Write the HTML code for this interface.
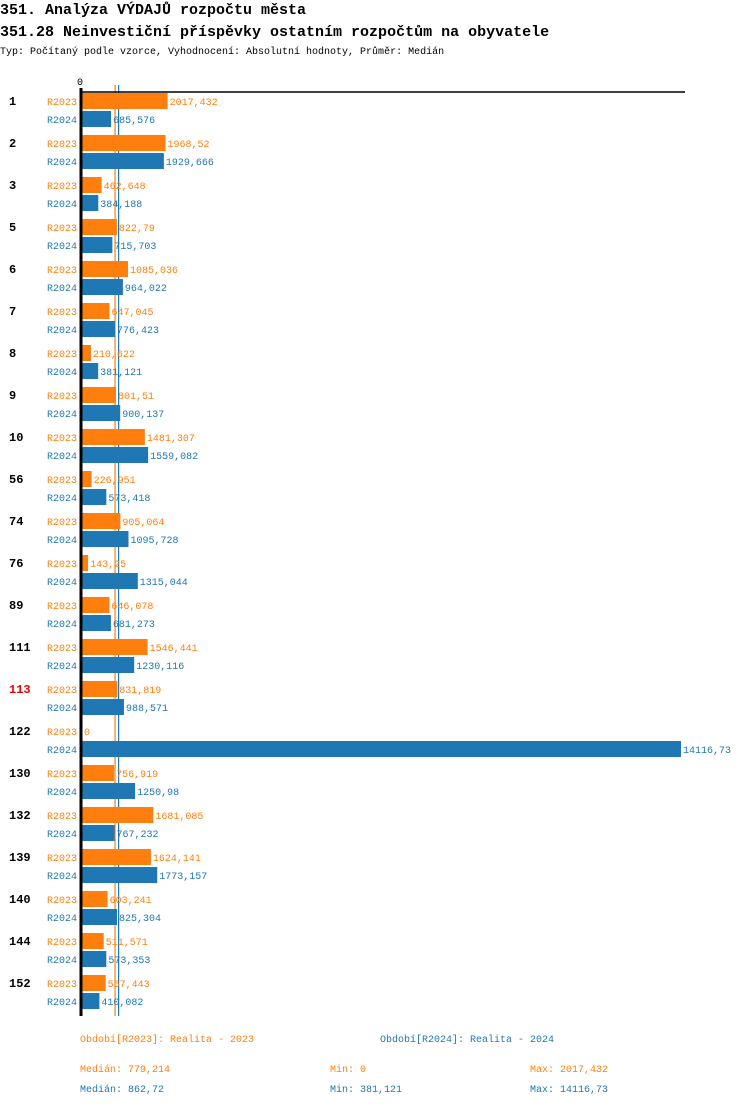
<!DOCTYPE html>
<html><head><meta charset="utf-8"><style>
body{margin:0;background:#fff;width:750px;height:1106px;overflow:hidden;font-family:"Liberation Mono",monospace}
svg text{font-family:"Liberation Mono",monospace}
</style></head><body>
<svg id="c" width="750" height="1106" xmlns="http://www.w3.org/2000/svg">
<text x="0" y="14" font-size="15" font-weight="bold">351. Analýza VÝDAJŮ rozpočtu města</text>
<text x="0" y="36" font-size="15" font-weight="bold">351.28 Neinvestiční příspěvky ostatním rozpočtům na obyvatele</text>
<text x="0" y="54" font-size="10">Typ: Počítaný podle vzorce, Vyhodnocení: Absolutní hodnoty, Průměr: Medián</text>
<text x="77" y="85" font-size="10">0</text>
<g id="medians"></g>
<g id="bars"></g>
<line x1="80" y1="92" x2="685" y2="92" stroke="#000" stroke-width="1.5"/>
<line x1="81" y1="88" x2="81" y2="1016" stroke="#000" stroke-width="3"/>
<g font-size="10">
<text x="80" y="1042" fill="#ff7f0e">Období[R2023]: Realita - 2023</text>
<text x="380" y="1042" fill="#1f77b4">Období[R2024]: Realita - 2024</text>
<text x="80" y="1072" fill="#ff7f0e">Medián: 779,214</text>
<text x="330" y="1072" fill="#ff7f0e">Min: 0</text>
<text x="530" y="1072" fill="#ff7f0e">Max: 2017,432</text>
<text x="80" y="1092" fill="#1f77b4">Medián: 862,72</text>
<text x="330" y="1092" fill="#1f77b4">Min: 381,121</text>
<text x="530" y="1092" fill="#1f77b4">Max: 14116,73</text>
</g>
</svg>
<script>
const categories=["1","2","3","5","6","7","8","9","10","56","74","76","89","111","113","122","130","132","139","140","144","152"];
const r2023=[2017.432,1968.52,462.648,822.79,1085.036,647.045,210.622,801.51,1481.307,226.951,905.064,143.25,646.078,1546.441,831.819,0,756.919,1681.085,1624.141,603.241,511.571,557.443];
const r2024=[685.576,1929.666,384.188,715.703,964.022,776.423,381.121,900.137,1559.082,573.418,1095.728,1315.044,681.273,1230.116,988.571,14116.73,1250.98,767.232,1773.157,825.304,573.353,410.082];
const medians=[779.214,862.72];
const highlight="113";
const NS="http://www.w3.org/2000/svg";
const x0=82, scale=(681-82)/14116.73;
const xs=v=>x0+v*scale;
const g=document.getElementById('bars');
const gm=document.getElementById('medians');
function fmt(v){return String(v).replace('.',',');}
function mk(tag,attrs,parent){const e=document.createElementNS(NS,tag);for(const k in attrs)e.setAttribute(k,attrs[k]);(parent||g).appendChild(e);return e;}
categories.forEach((c,i)=>{
  const top=93+42*i;
  const t=mk('text',{x:9,y:top+12,'font-size':12,'font-weight':'bold',fill:c===highlight?'#e00':'#000'});
  t.textContent=c;
  
  
  [[r2023[i],'#ff7f0e','R2023',0],[r2024[i],'#1f77b4','R2024',18]].forEach(([v,col,lab,off])=>{
    const y=top+off;
    const l=mk('text',{x:47,y:y+12,'font-size':10,fill:col});
    l.textContent=lab;
    
    
    const r=mk('rect',{x:x0,y:y,width:Math.max(0,xs(v)-x0),height:16,fill:col});
    
    
    const vt=mk('text',{x:xs(v)+2,y:y+12,'font-size':10,fill:col});
    vt.textContent=fmt(v);
    
    
  });
});
[['#ff7f0e',medians[0]],['#1f77b4',medians[1]]].forEach(([col,m])=>{
  const l=mk('line',{x1:xs(m),x2:xs(m),y1:85,y2:1016,stroke:col,'stroke-width':1.2},gm);
  
  
});
</script>
</body></html>
